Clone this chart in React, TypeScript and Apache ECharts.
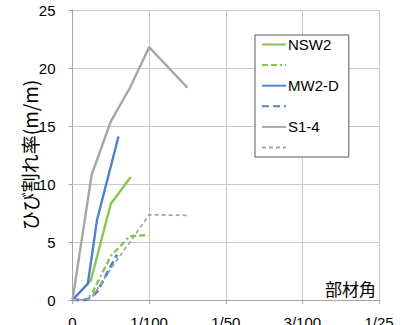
import React, { useEffect, useRef } from "react";
import * as echarts from "echarts";

const xTickLabels = ["0", "1/100", "1/50", "3/100", "1/25"];

const nsw2Solid: [number, number][] = [[0, 0], [0.0024, 1.7], [0.005, 8.3], [0.0076, 10.6]];
const nsw2Dash: [number, number][] = [[0, 0], [0.0017, 0], [0.0025, 0.5], [0.005, 3.8], [0.0075, 5.5], [0.0099, 5.6]];
const mw2dSolid: [number, number][] = [[0, 0], [0.002, 1.4], [0.0032, 6.9], [0.006, 14.1]];
const mw2dDash: [number, number][] = [[0, 0], [0.0017, 0], [0.0025, 0.25], [0.0033, 0.8], [0.0058, 3.9]];
const s14Solid: [number, number][] = [[0, 0], [0.0025, 10.8], [0.005, 15.4], [0.0075, 18.3], [0.01, 21.8], [0.015, 18.3]];
const s14Dash: [number, number][] = [[0, 0], [0.0017, 0], [0.0025, 0.2], [0.005, 2.7], [0.0075, 5.0], [0.01, 7.35], [0.015, 7.3]];

const GREEN = "#86c64a";
const BLUE = "#4f81cf";
const GRAY = "#a6a6a6";

export default function App() {
  const ref = useRef<HTMLDivElement>(null);
  useEffect(() => {
    if (!ref.current) return;
    const chart = echarts.init(ref.current, undefined, { renderer: "svg" });
    const line = (name: string, data: [number, number][], color: string, type: any, width: number) => ({
      name,
      type: "line",
      data,
      symbol: "none",
      showSymbol: false,
      lineStyle: { color, type, width },
      itemStyle: { color },
      z: 3,
    });
    chart.setOption({
      animation: false,
      grid: { left: 72.5, right: 32, top: 10, bottom: 25, containLabel: false, outerBoundsMode: "none" },
      xAxis: {
        type: "value",
        min: 0,
        max: 0.04,
        interval: 0.01,
        axisLine: { show: true, onZero: false, lineStyle: { color: "#a6a6a6" } },
        axisTick: { show: true, length: 4, lineStyle: { color: "#a6a6a6" } },
        axisLabel: {
          margin: 15,
          fontSize: 15,
          color: "#000",
          fontFamily: "Liberation Sans",
          formatter: (v: number) => xTickLabels[Math.round(v / 0.01)] ?? "",
        },
        splitLine: { show: true, lineStyle: { color: "#c8c8c8" } },
      },
      yAxis: {
        type: "value",
        min: 0,
        max: 25,
        interval: 5,
        name: "ひび割れ率(m/m)",
        nameLocation: "middle",
        nameGap: 34,
        nameMoveOverlap: false,
        nameTextStyle: { fontSize: 19, color: "#000", fontFamily: "Noto Sans CJK JP" },
        axisLine: { show: true, lineStyle: { color: "#a6a6a6" } },
        axisTick: { show: true, length: 4, lineStyle: { color: "#a6a6a6" } },
        axisLabel: { margin: 17, fontSize: 15, color: "#000", fontFamily: "Liberation Sans" },
        splitLine: { show: true, lineStyle: { color: "#c8c8c8" } },
      },
      legend: {
        orient: "vertical",
        left: 255,
        top: 35,
        data: ["NSW2", " ", "MW2-D", "  ", "S1-4", "   "],
        itemWidth: 24,
        itemHeight: 14,
        itemGap: 5.6,
        padding: [2, 10, 2, 6],
        backgroundColor: "#fff",
        borderColor: "#595959",
        borderWidth: 1,
        itemStyle: { opacity: 0 },
        textStyle: { fontSize: 15, color: "#000", fontFamily: "Liberation Sans", padding: [0, 0, 0, -3] },
      },
      graphic: [
        {
          type: "text",
          right: 35,
          top: 280,
          style: { text: "部材角", fontSize: 17, fill: "#000", fontFamily: "Noto Sans CJK JP" },
          z: 10,
        },
      ],
      series: [
        line("NSW2", nsw2Solid, GREEN, "solid", 2.4),
        line(" ", nsw2Dash, GREEN, [6, 3, 6, 3, 2, 3], 2.4),
        line("MW2-D", mw2dSolid, BLUE, "solid", 2.4),
        line("  ", mw2dDash, BLUE, [7, 4], 2.8),
        line("S1-4", s14Solid, GRAY, "solid", 2.4),
        line("   ", s14Dash, GRAY, [4, 3], 1.8),
      ],
    });
    return () => chart.dispose();
  }, []);
  return <div ref={ref} style={{ width: 411, height: 325, position: "absolute", left: 0, top: 0 }} />;
}
